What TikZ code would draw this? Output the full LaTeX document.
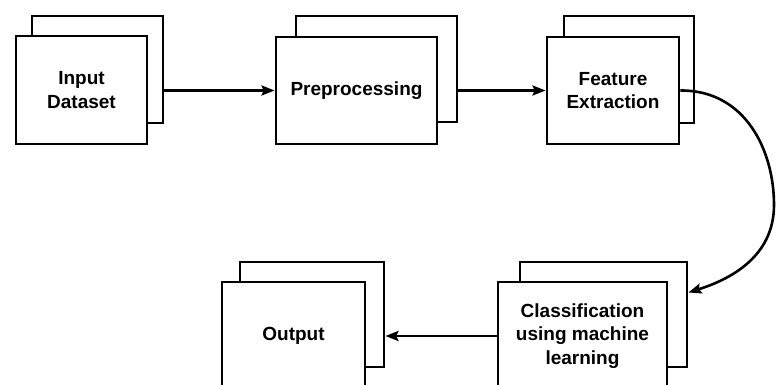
\documentclass[tikz,border=0pt]{standalone}
\usepackage{fontspec}
\setmainfont{Liberation Sans}
\usetikzlibrary{arrows.meta}
\begin{document}
\begin{tikzpicture}[x=1pt,y=-1pt,
  card/.style={draw=black, line width=2.8pt, fill=white, inner sep=0pt,
    font=\fontsize{19}{23.5}\selectfont\bfseries, align=center},
  link/.style={line width=2.6pt, -{Stealth[length=13pt,width=10pt,inset=2pt]}}]
\useasboundingbox (0,0) rectangle (776,385);

% stacked cards: the back sheet first, the front sheet over it
\node[card, minimum width=131pt, minimum height=107pt] (bk1) at (97.5,69.5) {};
\node[card, minimum width=131pt, minimum height=108pt] (in1) at (81.5,90) {Input\\Dataset};

\node[card, minimum width=161pt, minimum height=106pt] (bk2) at (376.5,69) {};
\node[card, minimum width=161pt, minimum height=107pt] (pre) at (356.5,90.5) {Preprocessing};

\node[card, minimum width=130pt, minimum height=107pt] (bk3) at (629,69.5) {};
\node[card, minimum width=132pt, minimum height=107pt] (fe) at (613,90.5) {Feature\\Extraction};

\node[card, minimum width=167pt, minimum height=105pt] (bkc) at (603.5,314.5) {};
\node[card, minimum width=169pt, minimum height=108pt] (cls) at (582.5,336) {Classification\\using machine\\learning};

\node[card, minimum width=144pt, minimum height=105pt] (bko) at (312,314.5) {};
\node[card, minimum width=143pt, minimum height=108pt] (out) at (293.5,336) {Output};

% connectors
\draw[link] (pre.west -| bk1.east) -- (pre.west);
\draw[link] (fe.west -| bk2.east) -- (fe.west);
\draw[link] (fe.east) .. controls (745,90) and (774,150) .. (774,205)
  .. controls (774,258) and (728,280) .. ([yshift=22pt]bkc.east);
\draw[link] (cls.west) -- (cls.west -| bko.east);
\end{tikzpicture}
\end{document}
